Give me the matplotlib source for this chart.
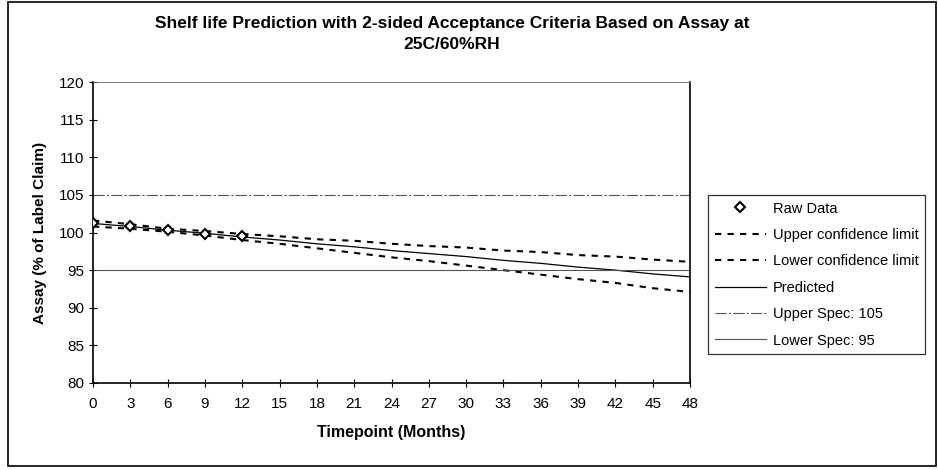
import numpy as np
import matplotlib.pyplot as plt
from matplotlib.patches import Rectangle

plt.rcParams['font.family'] = ['Liberation Sans', 'DejaVu Sans']
plt.rcParams['font.size'] = 10

# raw assay results
raw_months = [0, 3, 6, 9, 12]
raw_assay = [101.3, 100.8, 100.3, 99.8, 99.6]

# regression line and confidence limits, read at every tick
months = [0, 3, 6, 9, 12, 15, 18, 21, 24, 27, 30, 33, 36, 39, 42, 45, 48]
predicted = [101.2, 100.8, 100.3, 99.9, 99.4, 99.0, 98.5, 98.1, 97.6,
             97.2, 96.8, 96.3, 95.9, 95.4, 95.0, 94.5, 94.1]
upper_cl = [101.6, 101.1, 100.5, 100.2, 99.8, 99.5, 99.1, 98.9, 98.5,
            98.2, 98.0, 97.6, 97.4, 97.0, 96.8, 96.4, 96.1]
lower_cl = [100.8, 100.5, 100.1, 99.6, 99.0, 98.5, 97.9, 97.3, 96.7,
            96.2, 95.6, 95.0, 94.4, 93.8, 93.3, 92.6, 92.1]
upper_spec = 105
lower_spec = 95

W, H = 938, 470
fig = plt.figure(figsize=(W/100, H/100), dpi=100)
fig.patches.append(Rectangle((8/W, 4/H), 928/W, 464/H, transform=fig.transFigure,
                             fill=False, ec='black', lw=1.2))

ax = fig.add_axes([93/W, 1 - 383/H, 597/W, 301/H])

ax.plot(months, upper_cl, color='black', ls=(0, (3, 3)), lw=1.5, label='Upper confidence limit')
ax.plot(months, lower_cl, color='black', ls=(0, (3, 3)), lw=1.5, label='Lower confidence limit')
ax.plot(months, predicted, color='black', lw=0.9, label='Predicted')
ax.plot([months[0], months[-1]], [upper_spec, upper_spec], color='#555555', lw=0.8,
        ls=(0, (10, 2, 2, 2)), label='Upper Spec: 105')
ax.plot([months[0], months[-1]], [lower_spec, lower_spec], color='#555555', lw=0.8,
        label='Lower Spec: 95')
ax.plot(raw_months, raw_assay, ls='none', marker='D', ms=5, mfc='white', mec='black',
        mew=1.5, label='Raw Data', zorder=5)

ax.set_xlim(0, 48)
ax.set_ylim(80, 120)
ax.set_xticks(months)
ax.set_yticks(np.arange(80, 121, 5))
ax.tick_params(direction='inout', length=6, width=0.8, labelsize=11, pad=7)
ax.tick_params(axis='y', pad=3)
for s in ['left', 'bottom', 'right']:
    ax.spines[s].set_linewidth(1.2)
ax.spines['top'].set_linewidth(0.6)
ax.spines['top'].set_color('#666666')

ax.set_xlabel('Timepoint (Months)', fontweight='bold', fontsize=11.5, labelpad=10)
ax.set_ylabel('Assay (% of Label Claim)', fontweight='bold', fontsize=11, labelpad=9)

fig.text(452/W, 1 - 34/H, 'Shelf life Prediction with 2-sided Acceptance Criteria Based on Assay at\n25C/60%RH',
         ha='center', va='center', fontweight='bold', fontsize=12.5, linespacing=1.45)

h, l = ax.get_legend_handles_labels()
order = [5, 0, 1, 2, 3, 4]
fig.legend([h[i] for i in order], [l[i] for i in order], loc='upper left',
           bbox_to_anchor=(708/W, 1 - 195/H), frameon=True, fancybox=False,
           edgecolor='black', fontsize=10.5, handlelength=3.5, labelspacing=0.85,
           borderaxespad=0, borderpad=0.45, handletextpad=0.5).get_frame().set_linewidth(0.9)

fig.savefig('out.png', dpi=100)
